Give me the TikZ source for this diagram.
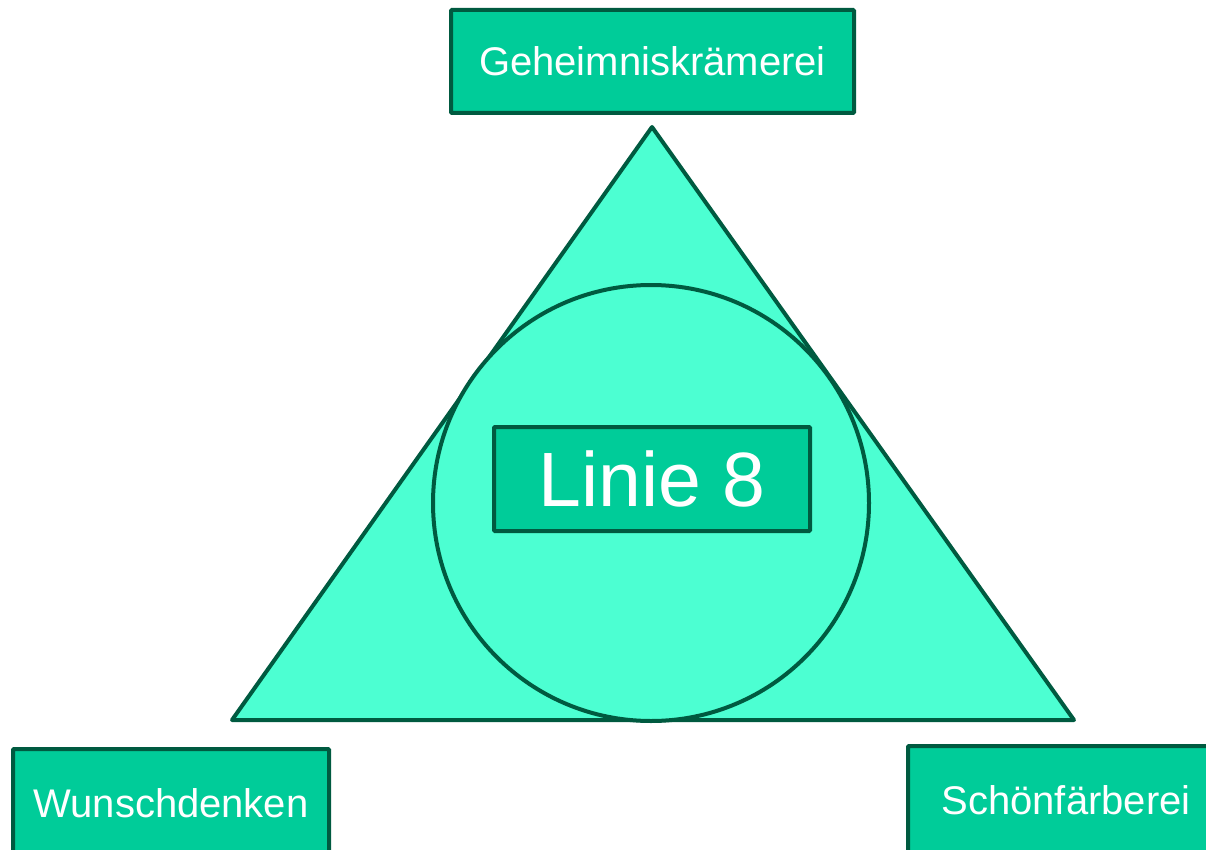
\documentclass[tikz,border=0pt]{standalone}
\usepackage{fontspec}
\setmainfont{Liberation Sans}
\definecolor{boxfill}{HTML}{00CC99}
\definecolor{trifill}{HTML}{4CFFD2}
\definecolor{edge}{HTML}{005A40}
\begin{document}
\begin{tikzpicture}[x=1pt,y=-1pt,
  lbox/.style={draw=edge,fill=boxfill,line width=4pt,rounded corners=1pt,text=white,inner sep=0pt,
    font=\fontsize{40}{48}\selectfont,minimum width=316pt,minimum height=108pt},
  greenshape/.style={draw=edge,fill=trifill,line width=4pt,line join=round}]
\useasboundingbox (0,0) rectangle (1206,850);
\clip (0,0) rectangle (1206,850);
\coordinate (apex) at (652,127);
\coordinate (bl) at (232,720);
\coordinate (br) at (1074,720);
\draw[greenshape] (apex) -- (bl) -- (br) -- cycle;
\node[greenshape,circle,minimum size=436pt,inner sep=0pt] (circ) at (651,503) {};
\node[lbox,minimum width=403pt,minimum height=103pt] (geh) at (652.5,61.5) {Geheimniskrämerei};
\node[lbox,minimum height=104pt,font=\fontsize{77}{90}\selectfont] (linie) at (652,479) {Linie 8};
\node[lbox] (wun) at (171,803) {Wunschdenken};
\node[lbox] (sch) at (1066,800) {Schönfärberei};
\end{tikzpicture}
\end{document}
